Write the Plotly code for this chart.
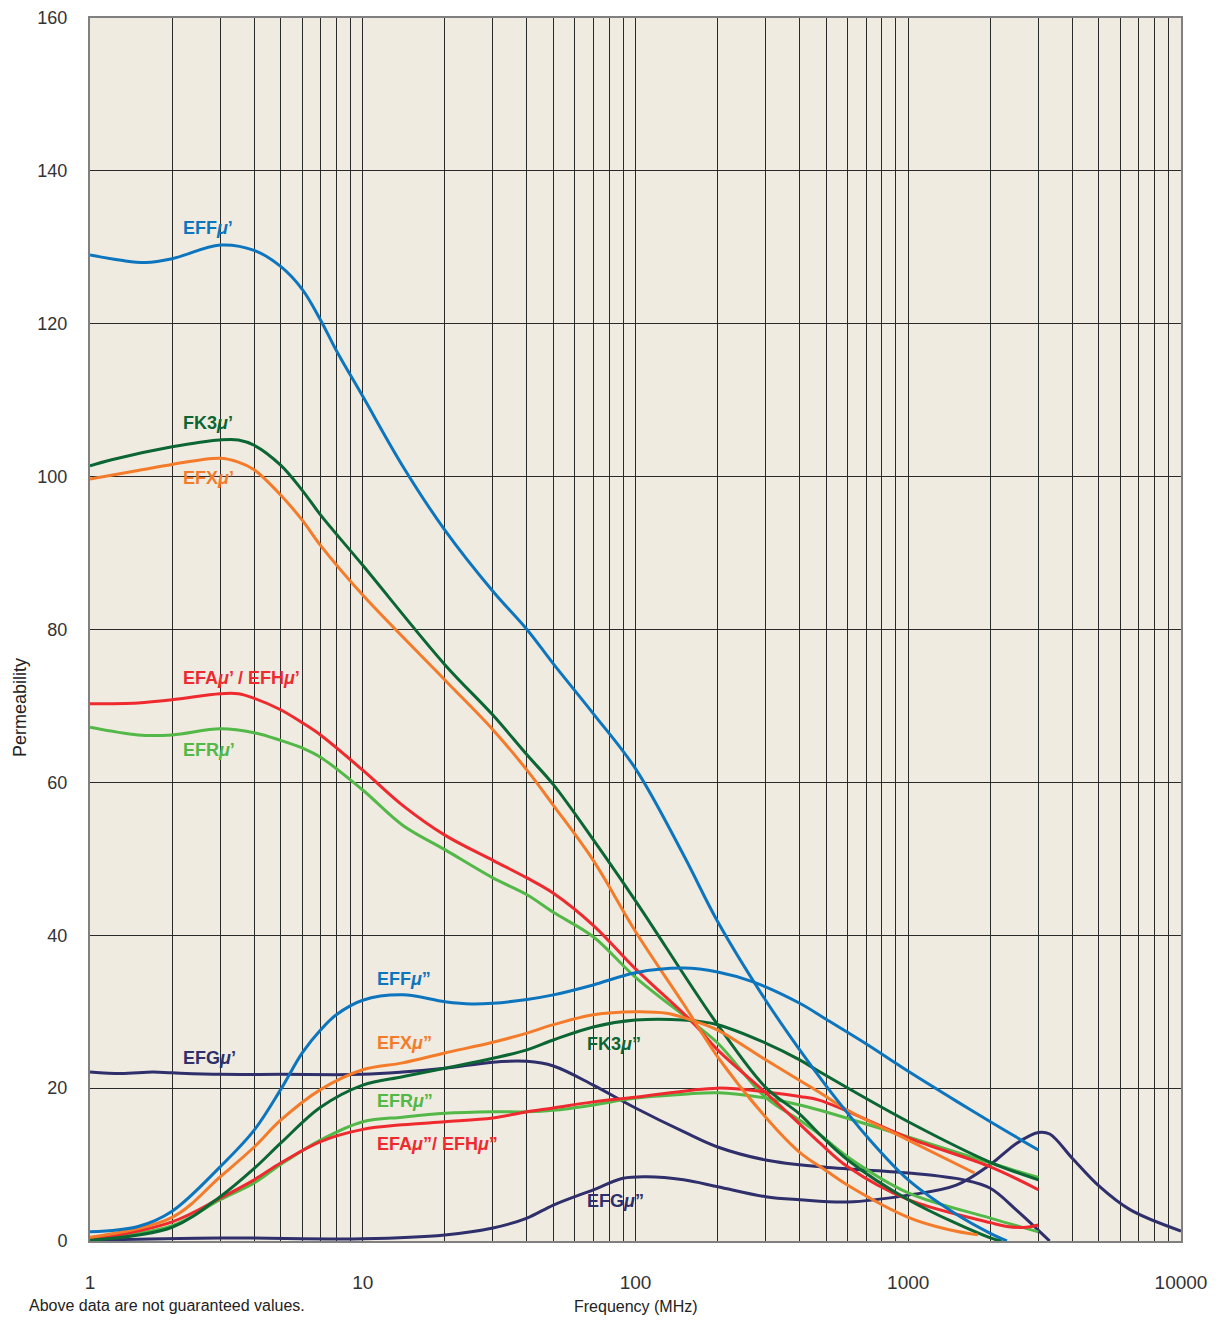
import numpy as np
import plotly.graph_objects as go

# ---------------- data ----------------
eff_mu1_f = [1, 1.3, 1.6, 2, 3, 4, 5, 6, 7, 8, 10, 14, 20, 30, 40, 50, 70, 100, 150, 200, 300, 400, 500, 600, 700, 1000, 1500, 2000, 2300]
eff_mu1_v = [129, 128.3, 128, 128.5, 130.3, 129.6, 127.5, 124.5, 120.5, 116.5, 110.5, 101.4, 93, 85, 80, 75.5, 69, 61.8, 50.5, 41.8, 31.5, 25, 20.3, 16.7, 13.8, 8, 3.5, 1, 0]

eff_mu2_f = [1, 1.5, 2, 3, 4, 5, 6, 7, 8, 10, 14, 20, 25, 30, 40, 50, 70, 100, 150, 200, 270, 400, 500, 700, 1000, 1500, 2000, 3000]
eff_mu2_v = [1.2, 1.9, 3.9, 9.7, 14.5, 19.8, 24.6, 27.6, 29.6, 31.5, 32.2, 31.3, 31, 31.1, 31.6, 32.2, 33.5, 35.1, 35.7, 35.2, 33.9, 31.1, 29, 25.8, 22.2, 18.3, 15.6, 11.9]

efx_mu1_f = [1, 1.5, 2, 3, 3.5, 4, 5, 6, 7, 10, 20, 30, 40, 50, 70, 100, 150, 200, 300, 400, 500, 600, 1000, 1400, 1800]
efx_mu1_v = [99.7, 100.8, 101.6, 102.4, 101.9, 100.9, 97.6, 94.3, 91, 84.5, 73.4, 66.9, 61.6, 57, 49.8, 40.5, 31, 24.1, 16.2, 11.6, 9.2, 7.3, 3.1, 1.5, 0.8]

efx_mu2_f = [1, 2, 3, 4, 5, 7, 10, 14, 20, 30, 40, 50, 70, 100, 130, 160, 200, 300, 400, 475, 600, 1000, 1750]
efx_mu2_v = [0.5, 3.1, 8.4, 12.3, 15.8, 19.8, 22.4, 23.3, 24.6, 26, 27.2, 28.3, 29.6, 30, 29.8, 28.9, 27.6, 23.7, 21, 19.4, 17.1, 13.2, 8.9]

fk3_mu1_f = [1, 1.2, 2, 3, 3.5, 4, 5, 6, 7, 10, 20, 30, 40, 50, 70, 100, 200, 300, 400, 475, 600, 1000, 2000, 2200]
fk3_mu1_v = [101.4, 102.2, 103.9, 104.8, 104.8, 104.1, 101.5, 98.2, 95, 88.4, 75.4, 68.8, 63.6, 59.7, 52.5, 44.5, 28.3, 20.1, 16.6, 13.9, 10.6, 5.4, 0.4, 0]

fk3_mu2_f = [1, 2, 3, 4, 5, 7, 10, 14, 20, 30, 40, 50, 70, 100, 150, 200, 300, 400, 475, 1000, 2000, 3000]
fk3_mu2_v = [0.1, 1.8, 5.8, 9.5, 12.8, 17.5, 20.4, 21.5, 22.6, 23.9, 25, 26.3, 28, 28.9, 28.9, 28.3, 25.9, 23.7, 22.1, 15.6, 10.3, 8]

efa_mu1_f = [1, 1.5, 2, 3, 3.5, 4, 5, 6, 7, 10, 14, 20, 30, 40, 50, 70, 100, 162, 200, 300, 400, 475, 600, 1000, 2000, 2300, 2700, 3000]
efa_mu1_v = [70.3, 70.4, 70.8, 71.6, 71.6, 71, 69.5, 67.8, 66.2, 61.6, 57, 53.1, 49.8, 47.5, 45.5, 41.3, 35.6, 28.6, 25, 19.4, 15.3, 12.8, 9.7, 5.4, 2.4, 1.9, 1.8, 2.1]

efa_mu2_f = [1, 2, 3, 4, 5, 7, 10, 14, 20, 30, 40, 50, 70, 100, 200, 300, 400, 475, 1000, 2000, 3000]
efa_mu2_v = [0.1, 2.5, 5.6, 8, 10.2, 13, 14.6, 15.2, 15.6, 16.1, 16.9, 17.4, 18.2, 18.8, 20, 19.5, 18.9, 18.4, 13.5, 9.7, 6.7]

efr_mu1_f = [1, 1.5, 2, 3, 4, 5, 6, 7, 10, 14, 20, 30, 40, 50, 70, 100, 162, 200, 300, 400, 475, 600, 1000, 2000, 3000]
efr_mu1_v = [67.2, 66.2, 66.2, 67, 66.5, 65.5, 64.5, 63.3, 59, 54.4, 51.2, 47.5, 45.3, 43, 39.8, 34.5, 28.6, 25.9, 18.8, 15.8, 13.9, 11, 6.3, 3, 1.2]

efr_mu2_f = [1, 2, 3, 4, 5, 7, 10, 14, 20, 30, 40, 50, 70, 100, 150, 200, 300, 400, 475, 1000, 2000, 3000]
efr_mu2_v = [0.3, 2, 5.4, 7.6, 10, 13.2, 15.6, 16.2, 16.7, 16.9, 16.9, 17.1, 17.8, 18.7, 19.2, 19.4, 18.7, 17.8, 17.1, 13.6, 10.2, 8.3]

efg_mu1_f = [1, 1.3, 1.7, 2, 3, 5, 10, 14, 20, 30, 40, 50, 70, 100, 150, 200, 300, 475, 1000, 1600, 2000, 2500, 3000, 3300]
efg_mu1_v = [22.1, 21.9, 22.1, 22, 21.8, 21.8, 21.8, 22.1, 22.6, 23.4, 23.5, 22.9, 20.4, 17.4, 14.3, 12.3, 10.6, 9.7, 8.9, 8, 6.9, 4, 1.4, 0]

efg_mu2_f = [1, 3, 10, 20, 30, 40, 50, 70, 90, 110, 150, 200, 300, 400, 600, 1000, 1500, 2000, 2500, 3000, 3300, 4000, 5000, 6500, 10000]
efg_mu2_v = [0.1, 0.4, 0.3, 0.8, 1.7, 3, 4.7, 6.7, 8.2, 8.4, 8, 7.1, 5.8, 5.4, 5.1, 6, 7.3, 10, 12.8, 14.2, 14, 10.8, 7.2, 4.1, 1.3]

x_tick_labels = ["1", "10", "100", "1000", "10000"]
y_ticks = [0, 20, 40, 60, 80, 100, 120, 140, 160]

C_EFF = "#0C75BD"
C_FK3 = "#0B6634"
C_EFX = "#F47B2A"
C_EFA = "#EE2A2F"
C_EFR = "#52B848"
C_EFG = "#2E2F6B"

series = [
    (efg_mu2_f, efg_mu2_v, C_EFG, "EFG μ''"),
    (efg_mu1_f, efg_mu1_v, C_EFG, "EFG μ'"),
    (efr_mu2_f, efr_mu2_v, C_EFR, "EFR μ''"),
    (efr_mu1_f, efr_mu1_v, C_EFR, "EFR μ'"),
    (efa_mu2_f, efa_mu2_v, C_EFA, "EFA μ''"),
    (efa_mu1_f, efa_mu1_v, C_EFA, "EFA μ'"),
    (fk3_mu2_f, fk3_mu2_v, C_FK3, "FK3 μ''"),
    (fk3_mu1_f, fk3_mu1_v, C_FK3, "FK3 μ'"),
    (efx_mu2_f, efx_mu2_v, C_EFX, "EFX μ''"),
    (efx_mu1_f, efx_mu1_v, C_EFX, "EFX μ'"),
    (eff_mu2_f, eff_mu2_v, C_EFF, "EFF μ''"),
    (eff_mu1_f, eff_mu1_v, C_EFF, "EFF μ'"),
]

fig = go.Figure()
for f, v, c, name in series:
    fig.add_trace(go.Scatter(x=f, y=v, mode="lines", name=name,
                             line=dict(color=c, width=3, shape="spline", smoothing=1.0),
                             hoverinfo="x+y+name"))

# gridline positions: 1..9 x 10^k
grid_vals = [m * 10 ** k for k in range(4) for m in range(1, 10)] + [10000]
grid_text = [str(v) if str(v) in x_tick_labels else "" for v in grid_vals]

FONT = "Liberation Sans, Arial, Helvetica, sans-serif"

fig.update_xaxes(type="log", range=[0, 4], tickvals=grid_vals, ticktext=grid_text,
                 showgrid=True, gridcolor="#2a2a2a", gridwidth=1,
                 showline=True, mirror=True, linecolor="#808080", linewidth=2,
                 ticks="", ticklabelstandoff=23, zeroline=False, automargin=False,
                 tickfont=dict(family=FONT, size=19, color="#333333"))
fig.update_yaxes(range=[0, 160], tickvals=y_ticks,
                 showgrid=True, gridcolor="#2a2a2a", gridwidth=1,
                 showline=True, mirror=True, linecolor="#808080", linewidth=2,
                 ticks="", ticklabelstandoff=17, zeroline=False, automargin=False,
                 tickfont=dict(family=FONT, size=18, color="#333333"))

labels = [
    (2.16, 132.5, "EFF<i>μ</i>’", C_EFF),
    (2.16, 107.0, "FK3<i>μ</i>’", C_FK3),
    (2.16, 99.8, "EFX<i>μ</i>’", C_EFX),
    (2.16, 73.7, "EFA<i>μ</i>’ / EFH<i>μ</i>’", C_EFA),
    (2.16, 64.2, "EFR<i>μ</i>’", C_EFR),
    (2.16, 23.9, "EFG<i>μ</i>’", C_EFG),
    (11.1, 34.3, "EFF<i>μ</i>”", C_EFF),
    (11.1, 25.9, "EFX<i>μ</i>”", C_EFX),
    (11.1, 18.3, "EFR<i>μ</i>”", C_EFR),
    (11.1, 12.7, "EFA<i>μ</i>”/ EFH<i>μ</i>”", C_EFA),
    (65.3, 25.8, "FK3<i>μ</i>”", C_FK3),
    (65.3, 5.2, "EFG<i>μ</i>”", C_EFG),
]
annots = []
for fx, fy, txt, c in labels:
    annots.append(dict(x=np.log10(fx), y=fy, xref="x", yref="y", text=txt, showarrow=False,
                       xanchor="left", yanchor="middle",
                       font=dict(family=FONT, size=18, color=c, weight="bold")))

annots += [
    dict(x=0.5, y=-0.0535, xref="paper", yref="paper", text="Frequency (MHz)", showarrow=False,
         xanchor="center", yanchor="middle", font=dict(family=FONT, size=16, color="#222222")),
    dict(x=-0.0642, y=0.4366, xref="paper", yref="paper", text="Permeability", showarrow=False,
         textangle=-90, xanchor="center", yanchor="middle",
         font=dict(family=FONT, size=18, color="#222222")),
    dict(x=-0.0577, y=-0.0531, xref="paper", yref="paper", text="Above data are not guaranteed values.",
         showarrow=False, xanchor="left", yanchor="middle",
         font=dict(family=FONT, size=16, color="#222222")),
]

# page body adds an 8px margin; size the figure so the plot area lands at x 90-1181, y 18-1241
fig.update_layout(width=1207, height=1308, margin=dict(l=82, r=34, t=10, b=75, autoexpand=False),
                  plot_bgcolor="#F0EBE1", paper_bgcolor="white",
                  showlegend=False, annotations=annots)

fig.write_html("out.html")
